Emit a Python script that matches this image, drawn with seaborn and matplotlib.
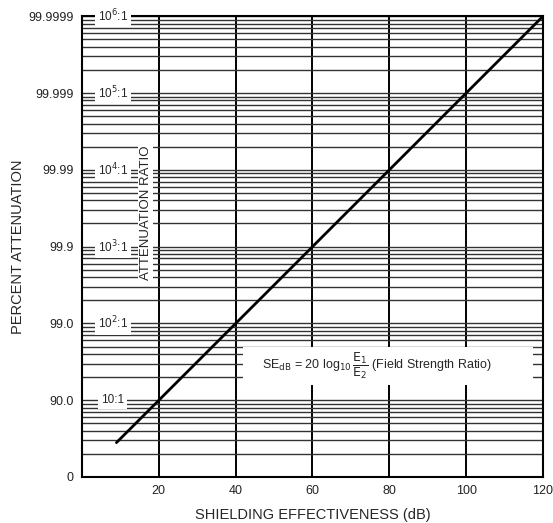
import numpy as np
import pandas as pd
import seaborn as sns
import matplotlib.pyplot as plt
from matplotlib.patches import Rectangle
from matplotlib.ticker import LogLocator, NullFormatter

# curve (dB, attenuation ratio)
se_db = [9, 120]
ratio = [2.8, 1e6]

decades = [1, 10, 1e2, 1e3, 1e4, 1e5, 1e6]
percent_labels = ['0', '90.0', '99.0', '99.9', '99.99', '99.999', '99.9999']
ratio_labels = ['10:1', '10$^2$:1', '10$^3$:1', '10$^4$:1', '10$^5$:1', '10$^6$:1']
x_ticks = [20, 40, 60, 80, 100, 120]

sns.set_style('white')
plt.rcParams['font.family'] = ['Liberation Sans', 'DejaVu Sans']

fig = plt.figure(figsize=(5.53, 5.23), dpi=100)
ax = fig.add_axes([0.148, 0.088, 0.834, 0.881])

df = pd.DataFrame({'SE': se_db, 'ratio': ratio})
sns.lineplot(data=df, x='SE', y='ratio', color='black', linewidth=2, ax=ax, zorder=5)

ax.set_yscale('log')
ax.set_xlim(0, 120)
ax.set_ylim(1, 1e6)

ax.set_yticks(decades)
ax.set_yticklabels(percent_labels, fontsize=9)
ax.yaxis.set_minor_locator(LogLocator(base=10, subs=np.arange(2, 10)))
ax.yaxis.set_minor_formatter(NullFormatter())
ax.set_xticks(x_ticks)
ax.set_xticklabels([str(t) for t in x_ticks], fontsize=9)
ax.tick_params(which='both', length=0, pad=6, labelcolor='#222222')

ax.grid(True, axis='x', which='major', color='black', linewidth=1.4)
ax.grid(True, axis='y', which='both', color='#333333', linewidth=1.0)
ax.set_axisbelow(True)
for s in ax.spines.values():
    s.set_color('black')
    s.set_linewidth(1.5)

for d, lab in zip(decades[1:], ratio_labels):
    ax.text(8, d, lab, fontsize=8.5, ha='center', va='center', zorder=4,
            bbox=dict(boxstyle='square,pad=0.25', fc='white', ec='none'))

ax.text(16.6, 10**3.44, 'ATTENUATION RATIO', rotation=90, fontsize=9.5,
        ha='center', va='center', zorder=4,
        bbox=dict(boxstyle='square,pad=0.1', fc='white', ec='none'))

ax.add_patch(Rectangle((0.349, 0.2), 0.629, 0.082, transform=ax.transAxes,
                       fc='white', ec='none', zorder=3))
ax.text(0.64, 0.24, r'SE$_{\mathrm{dB}}$ = 20 log$_{10}\,\dfrac{\mathrm{E}_1}{\mathrm{E}_2}$ (Field Strength Ratio)',
        transform=ax.transAxes, fontsize=9, ha='center', va='center', zorder=4)

ax.set_xlabel('SHIELDING EFFECTIVENESS (dB)', fontsize=10.5, labelpad=8)
ax.set_ylabel('PERCENT ATTENUATION', fontsize=10.5, labelpad=2)

fig.savefig('out.png', dpi=100)
